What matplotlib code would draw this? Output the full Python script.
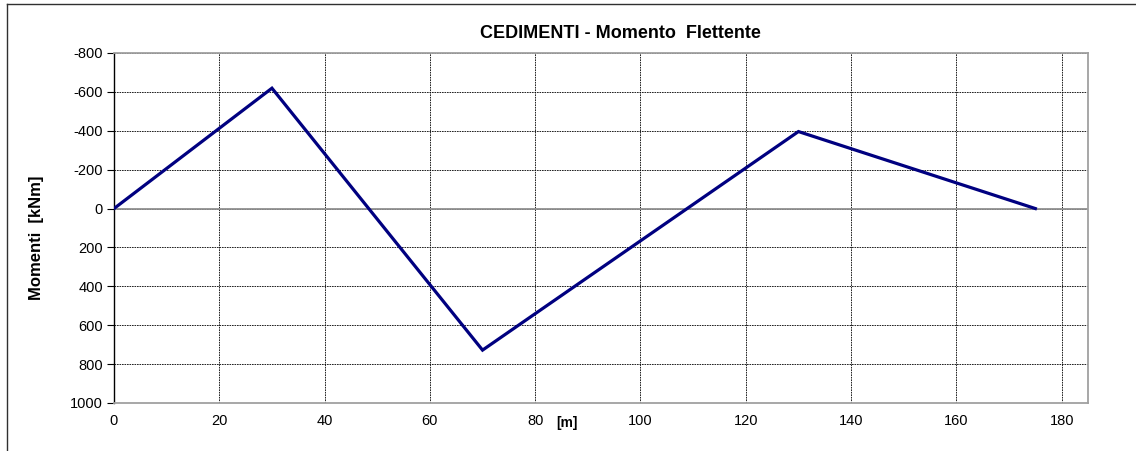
import matplotlib
matplotlib.use('Agg')
import matplotlib.pyplot as plt
from matplotlib.lines import Line2D

# Moment diagram points (support settlement)
distance_m = [0, 30, 70, 130, 175]
moment_knm = [0, -619, 728, -396, 0]

x_ticks = [0, 20, 40, 60, 80, 100, 120, 140, 160, 180]
y_ticks = [-800, -600, -400, -200, 0, 200, 400, 600, 800, 1000]

plt.rcParams['font.family'] = ['Liberation Sans', 'DejaVu Sans']
plt.rcParams['axes.unicode_minus'] = False

fig = plt.figure(figsize=(11.36, 4.51), dpi=100)
ax = fig.add_axes([114 / 1136, 1 - 403 / 451, (1088 - 114) / 1136, (403 - 53) / 451])

ax.plot(distance_m, moment_knm, color='#000080', linewidth=2.3, solid_joinstyle='miter', zorder=3)

ax.set_xlim(0, 185)
ax.set_ylim(1000, -800)
ax.set_xticks(x_ticks)
ax.set_yticks(y_ticks)
ax.tick_params(axis='x', length=0, pad=8, labelsize=10.5)
ax.tick_params(axis='y', length=5, width=0.8, direction='out', pad=3, labelsize=10.5)

ax.grid(True, color='black', linestyle=(0, (2, 1)), linewidth=0.6)
ax.axhline(0, color='#909090', linewidth=1.3, zorder=2)

for side in ['top', 'right', 'bottom']:
    ax.spines[side].set_color('#a0a0a0')
    ax.spines[side].set_linewidth(1.3)
ax.spines['left'].set_color('black')
ax.spines['left'].set_linewidth(1.0)

fig.text(620 / 1136, 1 - 33 / 451, 'CEDIMENTI - Momento  Flettente', ha='center', va='center',
         fontsize=13, fontweight='bold')
fig.text(37 / 1136, 1 - 238 / 451, 'Momenti  [kNm]', ha='center', va='center', rotation=90,
         fontsize=12, fontweight='bold')
fig.text(567 / 1136, 1 - 423 / 451, '[m]', ha='center', va='center', fontsize=10, fontweight='bold')

# chart border (top and left edges visible)
fig.add_artist(Line2D([7 / 1136, 7 / 1136], [0, 1 - 4 / 451], transform=fig.transFigure, color='#303030', linewidth=1.0))
fig.add_artist(Line2D([7 / 1136, 1], [1 - 4 / 451, 1 - 4 / 451], transform=fig.transFigure, color='#303030', linewidth=1.0))

fig.savefig('out.png', dpi=100)
